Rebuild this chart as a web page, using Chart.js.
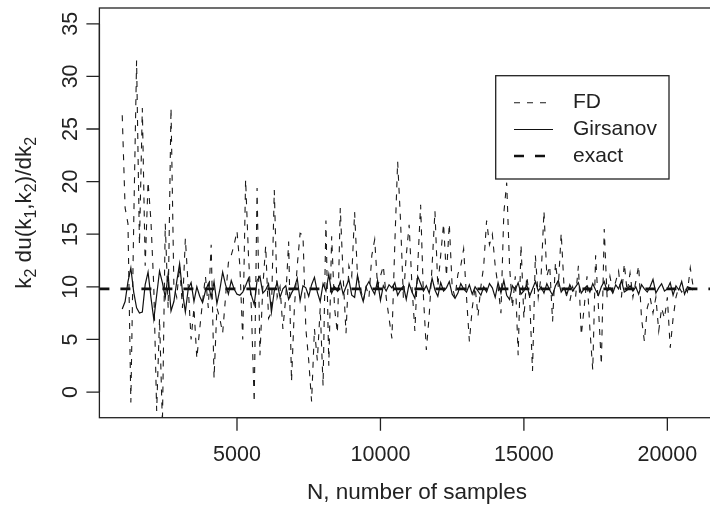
<!DOCTYPE html>
<html>
<head>
<meta charset="utf-8">
<script src="https://cdn.jsdelivr.net/npm/chart.js@4.4.1/dist/chart.umd.min.js"></script>
<style>
  html, body { margin: 0; padding: 0; background: #fff; }
  #contenitore { width: 710px; height: 507px; overflow: hidden; }
  canvas { display: block; }
</style>
</head>
<body>
<div id="contenitore"><canvas id="grafico" width="720" height="507"></canvas></div>
<script>
// numero di campioni N (asse x)
var campioniN = [
  1000, 1100, 1200, 1300, 1400, 1500, 1600, 1700, 1800, 1900,
  2000, 2100, 2200, 2300, 2400, 2500, 2600, 2700, 2800, 2900,
  3000, 3100, 3200, 3300, 3400, 3500, 3600, 3700, 3800, 3900,
  4000, 4100, 4200, 4300, 4400, 4500, 4600, 4700, 4800, 4900,
  5000, 5100, 5200, 5300, 5400, 5500, 5600, 5700, 5800, 5900,
  6000, 6100, 6200, 6300, 6400, 6500, 6600, 6700, 6800, 6900,
  7000, 7100, 7200, 7300, 7400, 7500, 7600, 7700, 7800, 7900,
  8000, 8100, 8200, 8300, 8400, 8500, 8600, 8700, 8800, 8900,
  9000, 9100, 9200, 9300, 9400, 9500, 9600, 9700, 9800, 9900,
  10000, 10100, 10200, 10300, 10400, 10500, 10600, 10700, 10800, 10900,
  11000, 11100, 11200, 11300, 11400, 11500, 11600, 11700, 11800, 11900,
  12000, 12100, 12200, 12300, 12400, 12500, 12600, 12700, 12800, 12900,
  13000, 13100, 13200, 13300, 13400, 13500, 13600, 13700, 13800, 13900,
  14000, 14100, 14200, 14300, 14400, 14500, 14600, 14700, 14800, 14900,
  15000, 15100, 15200, 15300, 15400, 15500, 15600, 15700, 15800, 15900,
  16000, 16100, 16200, 16300, 16400, 16500, 16600, 16700, 16800, 16900,
  17000, 17100, 17200, 17300, 17400, 17500, 17600, 17700, 17800, 17900,
  18000, 18100, 18200, 18300, 18400, 18500, 18600, 18700, 18800, 18900,
  19000, 19100, 19200, 19300, 19400, 19500, 19600, 19700, 19800, 19900,
  20000, 20100, 20200, 20300, 20400, 20500, 20600, 20700, 20800, 20900
];

// stima FD (tratteggio fine)
var valoriFD = [
  26.3, 17.5, 16.0, -1.0, 16.0, 31.5, 14.0, 27.0, 12.0, 20.0,
  16.3, 10.0, -1.8, 7.0, -3.0, 16.0, 8.0, 27.0, 10.0, 9.0,
  12.0, 8.0, 14.6, 10.0, 5.0, 8.0, 3.2, 6.0, 8.6, 11.0,
  8.0, 14.0, 1.3, 8.0, 7.0, 5.6, 9.0, 12.3, 13.0, 14.0,
  15.3, 12.0, 5.0, 20.2, 13.0, 8.0, -1.0, 19.4, 3.5, 10.0,
  13.9, 7.0, 7.6, 19.2, 9.0, 10.0, 6.0, 9.0, 14.3, 1.0,
  8.0, 12.0, 15.1, 14.9, 6.0, 3.0, -0.9, 6.0, 3.0, 8.0,
  0.6, 16.3, 2.5, 14.8, 8.0, 5.6, 17.5, 11.0, 5.6, 12.0,
  11.0, 17.1, 11.0, 10.0, 8.6, 10.0, 9.0, 13.0, 14.5, 10.0,
  11.0, 12.0, 9.0, 7.0, 5.1, 14.0, 21.9, 16.3, 8.9, 13.0,
  15.9, 10.0, 5.8, 12.0, 17.8, 9.0, 4.0, 7.3, 12.0, 17.2,
  10.0, 13.0, 16.0, 11.0, 16.0, 10.0, 9.0, 11.2, 12.0, 13.6,
  9.0, 4.8, 8.0, 10.0, 7.2, 10.0, 12.0, 16.3, 14.0, 15.0,
  12.0, 10.0, 7.5, 17.0, 19.9, 12.0, 8.0, 11.0, 3.5, 14.0,
  7.0, 11.0, 9.0, 2.0, 13.0, 9.0, 11.0, 17.2, 11.0, 12.0,
  6.7, 12.3, 10.0, 15.1, 10.0, 9.0, 8.6, 10.0, 9.0, 12.0,
  5.4, 8.0, 11.0, 6.0, 2.1, 13.0, 8.0, 2.6, 15.5, 9.0,
  11.0, 9.5, 10.5, 11.5, 9.0, 12.2, 9.5, 11.3, 9.0, 10.5,
  12.0, 7.0, 4.8, 8.0, 9.0, 7.5, 9.0, 5.8, 8.0, 7.0,
  9.0, 4.2, 7.0, 9.0, 10.0, 9.5, 10.0, 9.5, 11.8, 10.0
];

// stima Girsanov (linea continua)
var valoriGirsanov = [
  7.9, 8.6, 10.5, 11.8, 9.5, 8.0, 7.5, 7.6, 10.2, 11.4,
  9.0, 6.9, 9.2, 11.5, 10.4, 9.0, 11.2, 7.7, 8.6, 10.5,
  12.2, 9.5, 7.6, 9.8, 10.4, 8.6, 10.0, 9.1, 8.5, 9.6,
  10.3, 9.0, 10.5, 8.4, 9.7, 11.4, 10.2, 9.3, 10.6, 9.8,
  9.3, 9.2, 9.5, 10.1, 10.8, 9.2, 8.3, 10.6, 11.0, 9.4,
  9.7, 10.3, 7.6, 9.6, 10.4, 9.0, 9.8, 10.1, 8.8, 9.4,
  9.9, 10.8, 8.7, 10.1, 9.9, 9.1, 10.2, 10.9, 9.5, 8.6,
  10.3, 9.6, 11.2, 9.4, 10.0, 9.6, 10.5, 9.3, 10.0, 10.7,
  9.2, 9.0, 11.1, 9.5, 8.6, 10.0, 10.5, 9.8, 9.3, 10.6,
  8.7, 10.1, 9.6, 10.2, 9.9, 10.4, 9.2, 9.7, 10.1, 8.8,
  10.3, 9.5, 8.9, 11.0, 10.3, 9.6, 10.1, 9.4, 10.8, 9.7,
  9.1, 10.4, 9.6, 9.9, 10.5, 9.3, 8.9, 9.4, 10.3, 9.8,
  9.5, 10.2, 9.3, 10.0, 9.6, 9.2, 10.0, 9.5, 10.3, 9.9,
  9.0, 10.4, 9.4, 10.6, 9.2, 8.8, 10.1, 9.7, 10.4, 9.3,
  9.6, 10.2, 9.1, 9.8, 10.5, 9.6, 10.0, 9.4, 10.3, 9.7,
  9.2, 10.1, 10.6, 9.5, 9.9, 9.3, 10.2, 9.6, 10.0, 10.4,
  9.4, 9.8, 10.1, 9.5, 10.3, 9.7, 9.2, 10.0, 10.5, 9.6,
  9.9, 9.4, 10.2, 9.8, 10.6, 9.5, 9.7, 10.1, 9.6, 10.0,
  9.3, 10.2, 9.8, 9.5, 10.0, 10.7, 9.4, 9.9, 10.3, 9.6,
  9.8, 10.4, 9.2, 10.1, 9.7, 10.5, 9.3, 10.0, 9.9, 9.7
];

// valore esatto (linea orizzontale)
var valoreEsatto = 9.8;

var tickX = [5000, 10000, 15000, 20000];
var tickY = [0, 5, 10, 15, 20, 25, 30, 35];
var limitiX = [204, 21696];
var limitiY = [-2.44, 36.5];
var etichetteLegenda = ['FD', 'Girsanov', 'exact'];

var font = '"Liberation Sans", Arial, sans-serif';
var coloreAssi = '#222';

// costruzione dei punti
var puntiFD = [];
var puntiGirsanov = [];
for (var i = 0; i < campioniN.length; i++) {
  puntiFD.push({ x: campioniN[i], y: valoriFD[i] });
  puntiGirsanov.push({ x: campioniN[i], y: valoriGirsanov[i] });
}
var puntiEsatto = [
  { x: limitiX[0], y: valoreEsatto },
  { x: limitiX[1], y: valoreEsatto }
];

//plugin assi stile R, riquadro e legenda
var pluginAssi = {
  id: 'assiR',
  afterDraw: function(chart) {
    var ctx = chart.ctx;
    var area = chart.chartArea;
    var sx = chart.scales.x;
    var sy = chart.scales.y;
    ctx.save();

    // riquadro
    ctx.strokeStyle = coloreAssi;
    ctx.lineWidth = 1.3;
    ctx.strokeRect(area.left, area.top, area.right - area.left, area.bottom - area.top);

    // asse x
    ctx.beginPath();
    ctx.moveTo(sx.getPixelForValue(tickX[0]), area.bottom);
    ctx.lineTo(sx.getPixelForValue(tickX[tickX.length - 1]), area.bottom);
    for (var i = 0; i < tickX.length; i++) {
      var px = sx.getPixelForValue(tickX[i]);
      ctx.moveTo(px, area.bottom);
      ctx.lineTo(px, area.bottom + 13);
    }
    // asse y
    ctx.moveTo(area.left, sy.getPixelForValue(tickY[0]));
    ctx.lineTo(area.left, sy.getPixelForValue(tickY[tickY.length - 1]));
    for (var j = 0; j < tickY.length; j++) {
      var py = sy.getPixelForValue(tickY[j]);
      ctx.moveTo(area.left, py);
      ctx.lineTo(area.left - 13, py);
    }
    ctx.stroke();

    ctx.fillStyle = coloreAssi;
    ctx.font = '21.5px ' + font;
    ctx.textAlign = 'center';
    ctx.textBaseline = 'middle';
    for (var k = 0; k < tickX.length; k++) {
      ctx.fillText(String(tickX[k]), sx.getPixelForValue(tickX[k]), 455);
    }
    for (var m = 0; m < tickY.length; m++) {
      ctx.save();
      ctx.translate(71, sy.getPixelForValue(tickY[m]));
      ctx.rotate(-Math.PI / 2);
      ctx.fillText(String(tickY[m]), 0, 0);
      ctx.restore();
    }

    // titolo asse x
    ctx.font = '22.5px ' + font;
    ctx.fillText('N, number of samples', 417, 493);

    // titolo asse y con pedici
    var pezzi = [['k', 0], ['2', 1], [' du(k', 0], ['1', 1], [',k', 0], ['2', 1], [')/dk', 0], ['2', 1]];
    var larghezza = 0;
    for (var p = 0; p < pezzi.length; p++) {
      ctx.font = (pezzi[p][1] ? '16px ' : '22.5px ') + font;
      larghezza += ctx.measureText(pezzi[p][0]).width;
    }
    ctx.save();
    ctx.translate(31, (area.top + area.bottom) / 2);
    ctx.rotate(-Math.PI / 2);
    ctx.textAlign = 'left';
    ctx.textBaseline = 'alphabetic';
    var pos = -larghezza / 2;
    for (var q = 0; q < pezzi.length; q++) {
      ctx.font = (pezzi[q][1] ? '16px ' : '22.5px ') + font;
      ctx.fillText(pezzi[q][0], pos, pezzi[q][1] ? 5 : 0);
      pos += ctx.measureText(pezzi[q][0]).width;
    }
    ctx.restore();

    // legenda
    ctx.lineWidth = 1.3;
    ctx.strokeStyle = coloreAssi;
    ctx.strokeRect(495.7, 75.7, 173.3, 103.3);
    var righeY = [102.7, 129.5, 156];
    ctx.font = '21px ' + font;
    ctx.textAlign = 'left';
    for (var r = 0; r < etichetteLegenda.length; r++) {
      var ds = chart.data.datasets[r];
      ctx.beginPath();
      ctx.setLineDash(ds.borderDash || []);
      ctx.lineDashOffset = 0;
      ctx.lineWidth = ds.borderWidth;
      ctx.strokeStyle = ds.borderColor;
      ctx.moveTo(514, righeY[r]);
      ctx.lineTo(553, righeY[r]);
      ctx.stroke();
      ctx.setLineDash([]);
      ctx.fillText(etichetteLegenda[r], 573, righeY[r]);
    }
    ctx.restore();
  }
};

var grafico = new Chart(document.getElementById('grafico'), {
  type: 'line',
  data: {
    datasets: [
      {
        label: etichetteLegenda[0],
        data: puntiFD,
        borderColor: '#1a1a1a',
        borderWidth: 1.1,
        borderDash: [6, 7],
        pointRadius: 0,
        tension: 0,
        order: 2
      },
      {
        label: etichetteLegenda[1],
        data: puntiGirsanov,
        borderColor: '#111',
        borderWidth: 1.2,
        pointRadius: 0,
        tension: 0,
        order: 1
      },
      {
        label: etichetteLegenda[2],
        data: puntiEsatto,
        borderColor: '#111',
        borderWidth: 2.6,
        borderDash: [10, 11],
        pointRadius: 0,
        order: 0
      }
    ]
  },
  options: {
    responsive: false,
    animation: false,
    events: [],
    layout: { padding: { left: 99.4, top: 8, right: 4, bottom: 89.3 } },
    scales: {
      x: { type: 'linear', display: false, min: limitiX[0], max: limitiX[1] },
      y: { type: 'linear', display: false, min: limitiY[0], max: limitiY[1] }
    },
    plugins: {
      legend: { display: false },
      tooltip: { enabled: false }
    }
  },
  plugins: [pluginAssi]
});
</script>
</body>
</html>
